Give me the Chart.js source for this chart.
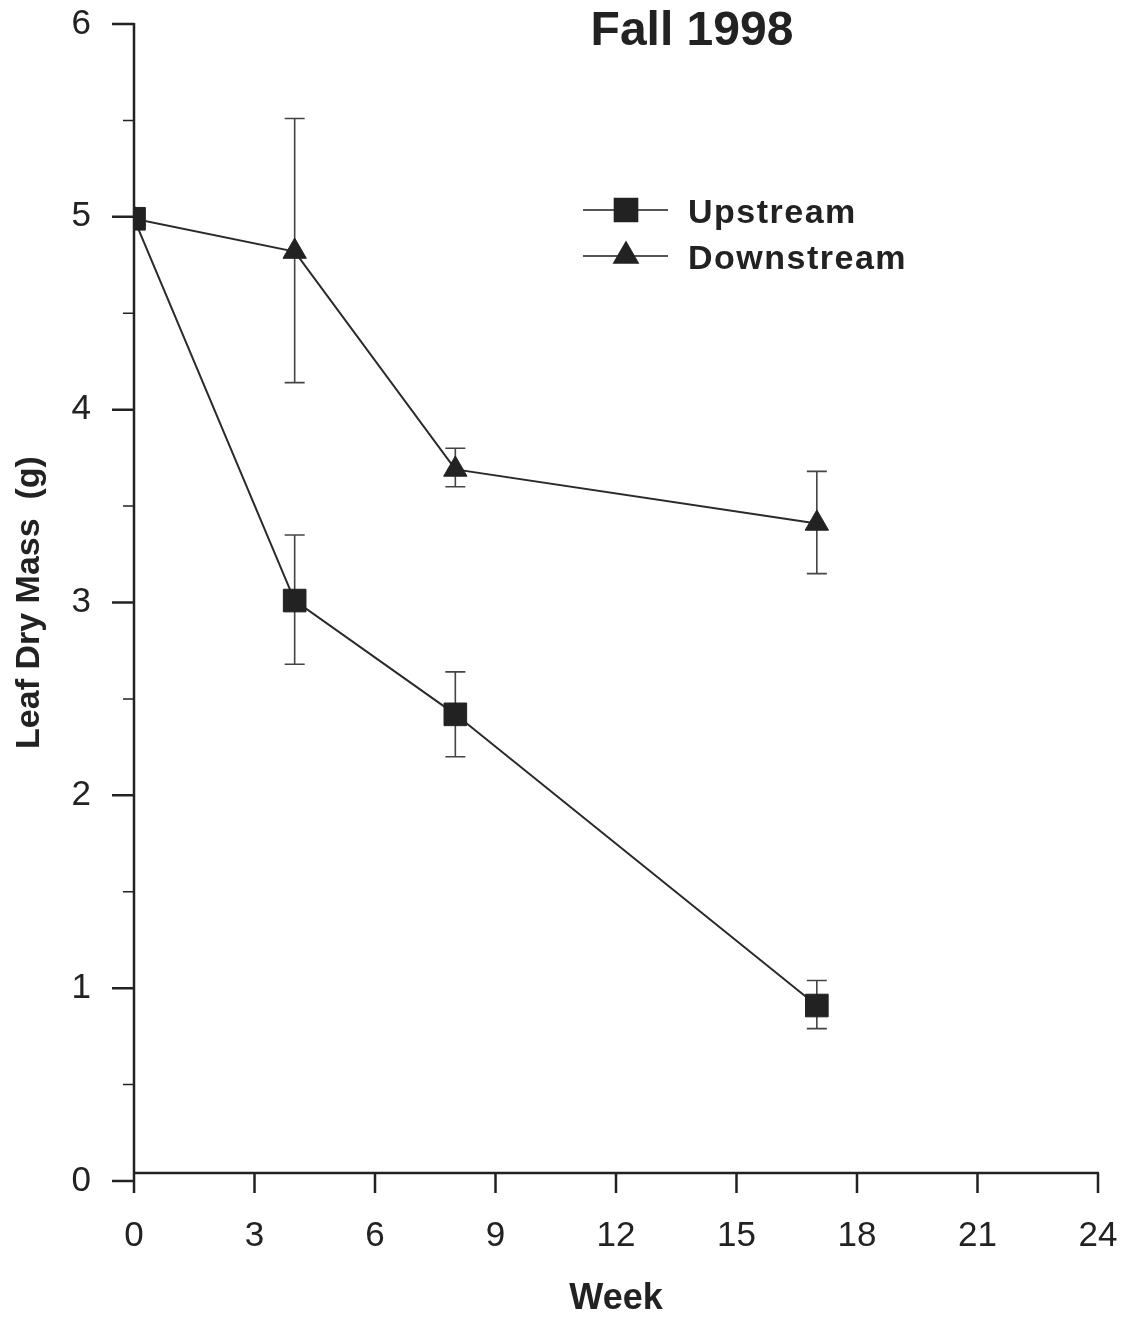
<!DOCTYPE html>
<html>
<head>
<meta charset="utf-8">
<title>Leaf Dry Mass - Fall 1998</title>
<script src="https://cdn.jsdelivr.net/npm/chart.js@4.4.1/dist/chart.umd.min.js"></script>
<style>
  html, body { margin: 0; padding: 0; background: #fff; }
  #wrap { width: 1124px; height: 1318px; }
</style>
</head>
<body>
<div id="wrap"><canvas id="massChart"></canvas></div>
<script>
// leaf dry mass (g) by week, mean with error bar ends
const weeks = [0, 4, 8, 17];
const upstream = [4.99, 3.01, 2.42, 0.91];
const upstreamLow = [null, 2.68, 2.20, 0.79];
const upstreamHigh = [null, 3.35, 2.64, 1.04];
const downstream = [4.99, 4.82, 3.69, 3.41];
const downstreamLow = [null, 4.14, 3.60, 3.15];
const downstreamHigh = [null, 5.51, 3.80, 3.68];
const xTicks = [0, 3, 6, 9, 12, 15, 18, 21, 24];
const yTicks = [0, 1, 2, 3, 4, 5, 6];
const yMinorTicks = [0.5, 1.5, 2.5, 3.5, 4.5, 5.5];

const FONT = '"Liberation Sans", Arial, Helvetica, sans-serif';
const INK = '#222';

const toPoints = (ys) => weeks.map((w, i) => ({ x: w, y: ys[i] }));

// axis lines and tick marks, drawn by hand so the x axis can sit a bit above zero
const axesPlugin = {
  id: 'axes',
  beforeDatasetsDraw(chart) {
    const { ctx, scales: { x, y } } = chart;
    const x0 = x.getPixelForValue(0);
    const y0 = y.getPixelForValue(0);
    const axisY = y0 - 8;
    ctx.save();
    ctx.strokeStyle = INK;
    ctx.lineWidth = 2.5;
    ctx.lineCap = 'butt';
    ctx.beginPath();
    ctx.moveTo(x0, y.getPixelForValue(6) - 1);
    ctx.lineTo(x0, axisY + 20);
    ctx.moveTo(x0, axisY);
    ctx.lineTo(x.getPixelForValue(24) + 1, axisY);
    yTicks.forEach(v => {
      const py = y.getPixelForValue(v);
      ctx.moveTo(x0 - 22, py);
      ctx.lineTo(x0, py);
    });
    xTicks.forEach(v => {
      const px = x.getPixelForValue(v);
      ctx.moveTo(px, axisY);
      ctx.lineTo(px, axisY + 20);
    });
    ctx.stroke();
    ctx.lineWidth = 1.5;
    ctx.beginPath();
    yMinorTicks.forEach(v => {
      const py = y.getPixelForValue(v);
      ctx.moveTo(x0 - 11, py);
      ctx.lineTo(x0, py);
    });
    ctx.stroke();
    ctx.restore();
  }
};

// vertical error bars with caps, under the markers
const errorBarPlugin = {
  id: 'errorBars',
  beforeDatasetsDraw(chart) {
    const { ctx, scales: { y } } = chart;
    ctx.save();
    ctx.strokeStyle = '#444';
    ctx.lineWidth = 1.6;
    chart.data.datasets.forEach((ds, i) => {
      const meta = chart.getDatasetMeta(i);
      meta.data.forEach((pt, j) => {
        const lo = ds.errLow[j];
        const hi = ds.errHigh[j];
        if (lo == null || hi == null) return;
        const yl = y.getPixelForValue(lo);
        const yh = y.getPixelForValue(hi);
        ctx.beginPath();
        ctx.moveTo(pt.x, yl);
        ctx.lineTo(pt.x, yh);
        ctx.moveTo(pt.x - 10, yl);
        ctx.lineTo(pt.x + 10, yl);
        ctx.moveTo(pt.x - 10, yh);
        ctx.lineTo(pt.x + 10, yh);
        ctx.stroke();
      });
    });
    ctx.restore();
  }
};

// title and the line+marker legend inside the plot
const labelsPlugin = {
  id: 'labels',
  afterDraw(chart) {
    const { ctx } = chart;
    ctx.save();
    ctx.fillStyle = INK;
    ctx.font = 'bold 48px ' + FONT;
    ctx.textAlign = 'center';
    ctx.textBaseline = 'alphabetic';
    ctx.fillText('Fall 1998', 692, 45);

    const rows = [210, 256];
    chart.data.datasets.forEach((ds, i) => {
      const cy = rows[i];
      ctx.strokeStyle = '#555';
      ctx.lineWidth = 2;
      ctx.beginPath();
      ctx.moveTo(583, cy);
      ctx.lineTo(668, cy);
      ctx.stroke();
      ctx.fillStyle = INK;
      ctx.strokeStyle = INK;
      Chart.helpers.drawPoint(ctx, {
        pointStyle: ds.pointStyle,
        radius: ds.pointRadius,
        rotation: 0,
        borderWidth: 1
      }, 626, cy);
      ctx.font = 'bold 34px ' + FONT;
      ctx.textAlign = 'left';
      ctx.textBaseline = 'alphabetic';
      ctx.letterSpacing = '1.5px';
      ctx.fillText(ds.label, 688, cy + 13);
      ctx.letterSpacing = '0px';
    });
    ctx.restore();
  }
};

// invisible tick marks: they only push the labels away from the axis
const hiddenGrid = {
  display: true,
  drawOnChartArea: false,
  drawTicks: true,
  color: 'rgba(0,0,0,0)',
};

new Chart(document.getElementById('massChart'), {
  type: 'line',
  data: {
    datasets: [
      {
        label: 'Upstream',
        data: toPoints(upstream),
        errLow: upstreamLow,
        errHigh: upstreamHigh,
        borderColor: '#2a2a2a',
        borderWidth: 2,
        pointStyle: 'rect',
        pointRadius: 16,
        pointBackgroundColor: INK,
        pointBorderColor: INK,
        pointBorderWidth: 1,
        tension: 0,
      },
      {
        label: 'Downstream',
        data: toPoints(downstream),
        errLow: downstreamLow,
        errHigh: downstreamHigh,
        borderColor: '#2a2a2a',
        borderWidth: 2,
        pointStyle: 'triangle',
        pointRadius: 13.5,
        pointBackgroundColor: INK,
        pointBorderColor: INK,
        pointBorderWidth: 1,
        tension: 0,
      },
    ],
  },
  options: {
    responsive: true,
    maintainAspectRatio: false,
    animation: false,
    layout: { padding: { top: 23, right: 26, left: 0, bottom: 0 } },
    plugins: {
      legend: { display: false },
      tooltip: { enabled: false },
    },
    scales: {
      x: {
        type: 'linear',
        min: 0,
        max: 24,
        afterBuildTicks: (s) => { s.ticks = xTicks.map(v => ({ value: v })); },
        afterFit: (s) => { s.height = 137; },
        grid: { ...hiddenGrid, tickLength: 31 },
        border: { display: false },
        ticks: {
          color: INK,
          padding: 3,
          maxRotation: 0,
          font: { family: FONT, size: 35 },
        },
        title: {
          display: true,
          text: 'Week',
          color: INK,
          font: { family: FONT, size: 36, weight: 'bold', lineHeight: 1 },
          padding: { top: 0, bottom: 1 },
        },
      },
      y: {
        min: 0,
        max: 6,
        afterBuildTicks: (s) => { s.ticks = yTicks.map(v => ({ value: v })); },
        afterFit: (s) => { s.width = 134; },
        grid: { ...hiddenGrid, tickLength: 40 },
        border: { display: false },
        ticks: {
          color: INK,
          padding: 3,
          font: { family: FONT, size: 35 },
        },
        title: {
          display: true,
          text: 'Leaf Dry Mass  (g)',
          color: INK,
          font: { family: FONT, size: 34, weight: 'bold', lineHeight: 1 },
          padding: { top: 13 },
        },
      },
    },
  },
  plugins: [axesPlugin, errorBarPlugin, labelsPlugin],
});
</script>
</body>
</html>
